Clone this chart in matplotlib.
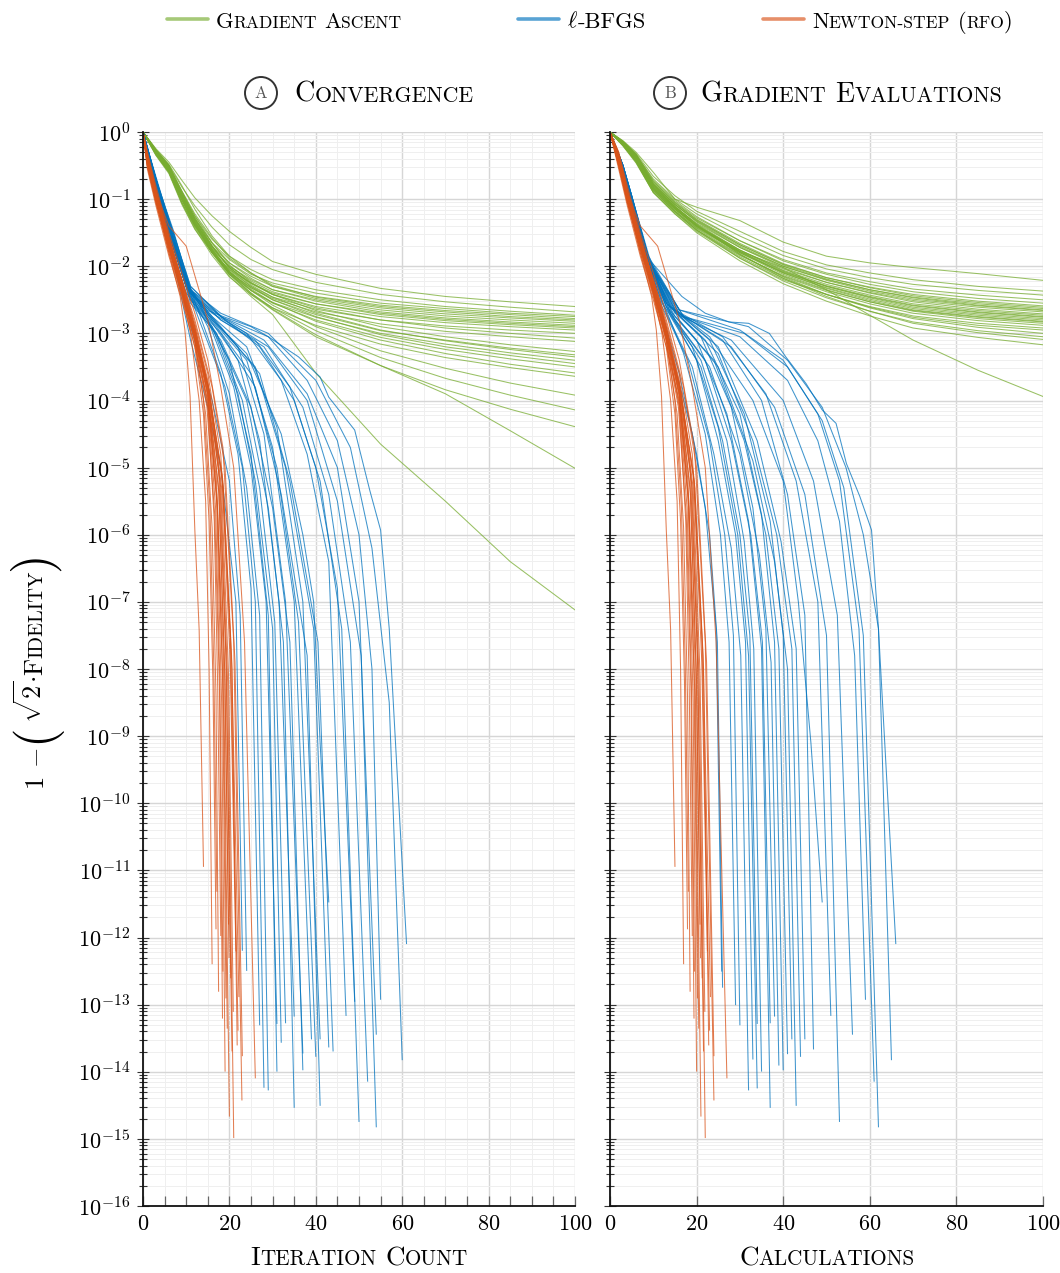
import matplotlib
matplotlib.use("Agg")
from matplotlib import pyplot as plt
from matplotlib.ticker import LogLocator, MultipleLocator, NullFormatter, NullLocator
from matplotlib.font_manager import FontProperties
from matplotlib.patches import Ellipse
from matplotlib.lines import Line2D

plt.rcParams['font.family'] = 'cmr10'
plt.rcParams['mathtext.fontset'] = 'cm'
plt.rcParams['axes.formatter.use_mathtext'] = True

# ---- data (values are log10 of 1 - fidelity) ----
# gradient ascent, panel A (iterations) on a shared x grid
ga_iter_x = [0, 3, 6, 9, 12, 16, 20, 25, 30, 40, 55, 70, 85, 100]
ga_iter_log = [
    [0, -0.25, -0.45, -0.72, -0.98, -1.25, -1.48, -1.72, -1.93, -2.12, -2.33, -2.45, -2.53, -2.60],
    [0, -0.27, -0.50, -0.82, -1.10, -1.42, -1.68, -1.90, -2.05, -2.24, -2.42, -2.53, -2.61, -2.68],
    [0, -0.30, -0.55, -0.90, -1.25, -1.60, -1.85, -2.05, -2.20, -2.35, -2.50, -2.60, -2.67, -2.73],
    [0, -0.27, -0.50, -0.95, -1.30, -1.65, -1.90, -2.12, -2.25, -2.40, -2.55, -2.63, -2.70, -2.75],
    [0, -0.32, -0.58, -1.00, -1.35, -1.70, -1.95, -2.15, -2.30, -2.45, -2.58, -2.66, -2.72, -2.78],
    [0, -0.30, -0.52, -0.88, -1.22, -1.58, -1.88, -2.10, -2.28, -2.46, -2.60, -2.68, -2.75, -2.80],
    [0, -0.26, -0.48, -0.80, -1.15, -1.55, -1.85, -2.10, -2.30, -2.48, -2.62, -2.71, -2.77, -2.82],
    [0, -0.33, -0.60, -1.05, -1.40, -1.75, -2.00, -2.20, -2.35, -2.50, -2.65, -2.74, -2.80, -2.85],
    [0, -0.29, -0.53, -0.92, -1.28, -1.66, -1.95, -2.18, -2.35, -2.52, -2.68, -2.77, -2.83, -2.88],
    [0, -0.35, -0.62, -1.08, -1.45, -1.80, -2.05, -2.25, -2.40, -2.56, -2.70, -2.79, -2.85, -2.90],
    [0, -0.30, -0.55, -0.98, -1.35, -1.72, -2.00, -2.22, -2.38, -2.56, -2.72, -2.81, -2.87, -2.92],
    [0, -0.28, -0.50, -0.90, -1.30, -1.70, -2.02, -2.25, -2.42, -2.60, -2.75, -2.84, -2.90, -2.95],
    [0, -0.32, -0.57, -1.00, -1.38, -1.76, -2.06, -2.30, -2.46, -2.64, -2.80, -2.89, -2.95, -3.00],
    [0, -0.30, -0.55, -0.95, -1.32, -1.72, -2.02, -2.26, -2.42, -2.62, -2.80, -2.92, -3.00, -3.07],
    [0, -0.34, -0.60, -1.05, -1.42, -1.80, -2.10, -2.32, -2.48, -2.68, -2.86, -2.97, -3.05, -3.12],
    [0, -0.27, -0.50, -0.88, -1.25, -1.65, -1.98, -2.24, -2.42, -2.66, -2.90, -3.05, -3.17, -3.27],
    [0, -0.31, -0.56, -1.00, -1.38, -1.78, -2.08, -2.32, -2.50, -2.72, -2.96, -3.10, -3.22, -3.32],
    [0, -0.29, -0.52, -0.93, -1.30, -1.70, -2.02, -2.28, -2.46, -2.70, -2.95, -3.11, -3.24, -3.35],
    [0, -0.33, -0.58, -1.02, -1.40, -1.80, -2.12, -2.36, -2.54, -2.76, -3.00, -3.16, -3.29, -3.40],
    [0, -0.28, -0.50, -0.90, -1.28, -1.70, -2.04, -2.30, -2.50, -2.75, -3.02, -3.20, -3.33, -3.45],
    [0, -0.32, -0.57, -1.00, -1.38, -1.78, -2.10, -2.36, -2.55, -2.80, -3.06, -3.24, -3.38, -3.50],
    [0, -0.30, -0.54, -0.96, -1.34, -1.75, -2.08, -2.34, -2.54, -2.82, -3.10, -3.30, -3.46, -3.59],
    [0, -0.34, -0.60, -1.06, -1.44, -1.84, -2.16, -2.42, -2.62, -2.88, -3.16, -3.36, -3.51, -3.64],
    [0, -0.29, -0.53, -0.94, -1.32, -1.74, -2.08, -2.36, -2.58, -2.90, -3.26, -3.52, -3.74, -3.92],
    [0, -0.31, -0.56, -0.98, -1.36, -1.78, -2.12, -2.40, -2.62, -2.96, -3.36, -3.67, -3.92, -4.14],
    [0, -0.30, -0.54, -0.96, -1.34, -1.76, -2.10, -2.40, -2.64, -3.02, -3.48, -3.84, -4.13, -4.39],
    [0, -0.30, -0.56, -0.98, -1.36, -1.78, -2.12, -2.42, -2.65, -3.05, -3.48, -3.90, -4.45, -5.01],
    [0, -0.32, -0.58, -1.00, -1.38, -1.80, -2.15, -2.45, -2.72, -3.59, -4.65, -5.50, -6.40, -7.12],
]

# gradient ascent, panel B (gradient evaluations)
ga_calc_x = [0, 3, 6, 10, 15, 20, 30, 40, 50, 60, 70, 85, 100]
ga_calc_log = [
    [0, -0.13, -0.30, -0.60, -1.00, -1.12, -1.32, -1.64, -1.85, -1.95, -2.02, -2.11, -2.21],
    [0, -0.14, -0.32, -0.66, -0.95, -1.18, -1.48, -1.78, -1.98, -2.10, -2.20, -2.30, -2.37],
    [0, -0.15, -0.34, -0.70, -1.00, -1.22, -1.55, -1.84, -2.04, -2.17, -2.27, -2.36, -2.43],
    [0, -0.16, -0.36, -0.74, -1.04, -1.28, -1.62, -1.90, -2.10, -2.23, -2.34, -2.43, -2.50],
    [0, -0.14, -0.33, -0.72, -1.02, -1.26, -1.62, -1.92, -2.12, -2.27, -2.38, -2.48, -2.55],
    [0, -0.17, -0.38, -0.78, -1.08, -1.32, -1.68, -1.97, -2.17, -2.31, -2.42, -2.52, -2.59],
    [0, -0.15, -0.35, -0.76, -1.06, -1.30, -1.66, -1.96, -2.17, -2.32, -2.44, -2.54, -2.61],
    [0, -0.18, -0.40, -0.82, -1.12, -1.36, -1.72, -2.00, -2.20, -2.35, -2.46, -2.56, -2.63],
    [0, -0.14, -0.33, -0.74, -1.05, -1.31, -1.68, -1.98, -2.19, -2.35, -2.47, -2.58, -2.65],
    [0, -0.16, -0.36, -0.78, -1.08, -1.33, -1.70, -2.00, -2.21, -2.37, -2.49, -2.59, -2.66],
    [0, -0.19, -0.42, -0.85, -1.15, -1.40, -1.76, -2.04, -2.24, -2.39, -2.51, -2.61, -2.68],
    [0, -0.15, -0.35, -0.77, -1.08, -1.34, -1.72, -2.02, -2.24, -2.40, -2.53, -2.64, -2.71],
    [0, -0.17, -0.39, -0.82, -1.13, -1.39, -1.76, -2.06, -2.27, -2.43, -2.56, -2.66, -2.73],
    [0, -0.18, -0.41, -0.84, -1.14, -1.40, -1.78, -2.08, -2.29, -2.45, -2.58, -2.68, -2.75],
    [0, -0.20, -0.44, -0.88, -1.18, -1.43, -1.80, -2.09, -2.30, -2.46, -2.59, -2.69, -2.76],
    [0, -0.16, -0.37, -0.80, -1.11, -1.37, -1.76, -2.07, -2.30, -2.47, -2.61, -2.71, -2.78],
    [0, -0.18, -0.40, -0.84, -1.15, -1.41, -1.79, -2.10, -2.32, -2.49, -2.63, -2.73, -2.80],
    [0, -0.16, -0.37, -0.80, -1.11, -1.38, -1.78, -2.10, -2.33, -2.51, -2.65, -2.75, -2.82],
    [0, -0.21, -0.46, -0.90, -1.20, -1.46, -1.84, -2.14, -2.36, -2.53, -2.66, -2.76, -2.83],
    [0, -0.17, -0.38, -0.82, -1.13, -1.40, -1.80, -2.12, -2.35, -2.53, -2.67, -2.78, -2.85],
    [0, -0.19, -0.42, -0.86, -1.17, -1.44, -1.83, -2.15, -2.38, -2.56, -2.70, -2.81, -2.88],
    [0, -0.20, -0.45, -0.90, -1.22, -1.48, -1.88, -2.20, -2.42, -2.60, -2.74, -2.85, -2.92],
    [0, -0.19, -0.43, -0.87, -1.19, -1.46, -1.86, -2.18, -2.42, -2.61, -2.76, -2.88, -2.95],
    [0, -0.17, -0.38, -0.80, -1.12, -1.40, -1.82, -2.16, -2.42, -2.62, -2.78, -2.91, -3.00],
    [0, -0.19, -0.42, -0.86, -1.18, -1.46, -1.88, -2.22, -2.47, -2.67, -2.83, -2.96, -3.05],
    [0, -0.16, -0.36, -0.78, -1.10, -1.38, -1.82, -2.18, -2.45, -2.67, -2.85, -2.99, -3.09],
    [0, -0.20, -0.44, -0.90, -1.22, -1.50, -1.92, -2.26, -2.52, -2.74, -2.92, -3.06, -3.17],
    [0, -0.18, -0.40, -0.84, -1.15, -1.42, -1.78, -2.02, -2.35, -2.73, -3.10, -3.55, -3.94],
]

# l-BFGS runs, (x, log10) keypoints per run
bfgs_iter = [
    [(0, 0), (2, -0.6), (5, -1.4), (8, -2.2), (11, -3.1), (15, -4.1), (18, -5.0), (21.5, -7.0), (23, -12.19)],
    [(0, 0), (2, -0.55), (5, -1.3), (8, -2.1), (11, -2.9), (16, -4.0), (20, -5.2), (22.5, -7.2), (24, -12.49)],
    [(0, 0), (2, -0.45), (5, -1.1), (9, -2.0), (13, -2.7), (18, -3.6), (22, -4.8), (25, -6.8), (27, -13.3)],
    [(0, 0), (2, -0.5), (5, -1.2), (9, -2.1), (13, -2.8), (19, -3.8), (23, -5.0), (26, -7.0), (28, -14.23)],
    [(0, 0), (3, -0.75), (6, -1.5), (10, -2.3), (15, -2.9), (20, -3.9), (24, -5.3), (27, -7.2), (29, -14.27)],
    [(0, 0), (3, -0.7), (6, -1.4), (10, -2.2), (15, -2.8), (21, -3.8), (25, -5.0), (28.5, -7.0), (31, -13.28)],
    [(0, 0), (3, -0.8), (6, -1.6), (10, -2.4), (14, -2.7), (20, -3.4), (25, -4.8), (29, -7.2), (31, -13.99)],
    [(0, 0), (3, -0.75), (7, -1.7), (11, -2.5), (16, -2.9), (22, -3.9), (26, -5.2), (30, -7.4), (32, -13.56)],
    [(0, 0), (3, -0.7), (7, -1.6), (11, -2.4), (17, -3.0), (23, -4.0), (27, -5.3), (30.5, -7.3), (33, -13.27)],
    [(0, 0), (3, -0.8), (6, -1.55), (10, -2.3), (15, -2.75), (22, -3.4), (27, -4.6), (31.5, -7.0), (35, -13.17)],
    [(0, 0), (3, -0.75), (7, -1.65), (11, -2.55), (17, -3.0), (24, -4.0), (29, -5.6), (32.5, -7.6), (35, -14.53)],
    [(0, 0), (3, -0.8), (6, -1.5), (10, -2.25), (15, -2.7), (22, -3.2), (28, -4.5), (33, -7.0), (37, -13.72)],
    [(0, 0), (3, -0.7), (7, -1.6), (12, -2.6), (18, -3.1), (25, -4.1), (30, -5.6), (34, -7.6), (37, -13.97)],
    [(0, 0), (3, -0.8), (6, -1.5), (10, -2.3), (16, -2.8), (24, -3.4), (30, -4.7), (35, -7.0), (39, -13.51)],
    [(0, 0), (3, -0.75), (7, -1.65), (11, -2.45), (17, -2.9), (25, -3.6), (31, -5.0), (36, -7.3), (40, -13.77)],
    [(0, 0), (3, -0.8), (6, -1.5), (10, -2.3), (16, -2.75), (24, -3.2), (31, -4.4), (37, -7.0), (41, -13.51)],
    [(0, 0), (3, -0.7), (7, -1.6), (11, -2.5), (18, -3.0), (26, -3.8), (32, -5.4), (38, -7.8), (41, -14.5)],
    [(0, 0), (3, -0.8), (6, -1.5), (10, -2.3), (16, -2.8), (24, -3.3), (32, -4.5), (37, -6.0), (39.5, -7.0), (41, -9.1), (43, -11.47)],
    [(0, 0), (3, -0.75), (7, -1.6), (11, -2.4), (17, -2.85), (26, -3.5), (33, -5.0), (39.5, -7.4), (43, -13.63)],
    [(0, 0), (3, -0.8), (6, -1.5), (10, -2.3), (18, -2.9), (27, -3.6), (34, -5.2), (40.5, -7.6), (44, -13.69)],
    [(0, 0), (3, -0.8), (6, -1.5), (10, -2.3), (16, -2.7), (24, -3.0), (32, -3.7), (38, -4.8), (43, -6.4), (47, -13.16)],
    [(0, 0), (3, -0.75), (7, -1.55), (11, -2.35), (18, -2.8), (26, -3.1), (34, -3.8), (40, -5.0), (45, -6.8), (49, -12.95)],
    [(0, 0), (3, -0.7), (7, -1.5), (11, -2.3), (18, -2.75), (27, -3.2), (35, -4.0), (41, -5.2), (46, -7.4), (50, -14.74)],
    [(0, 0), (3, -0.8), (6, -1.5), (11, -2.4), (18, -2.8), (28, -3.2), (37, -4.1), (43, -5.4), (48, -7.6), (52, -14.14)],
    [(0, 0), (3, -0.75), (7, -1.55), (11, -2.35), (18, -2.75), (28, -3.1), (38, -3.9), (45, -5.0), (50, -7.0), (54, -13.44)],
    [(0, 0), (3, -0.7), (7, -1.5), (11, -2.3), (19, -2.8), (29, -3.2), (38, -4.0), (45, -5.5), (50.5, -7.8), (54, -14.82)],
    [(0, 0), (3, -0.8), (6, -1.5), (11, -2.4), (18, -2.75), (29, -3.05), (38, -3.7), (45, -4.6), (50, -6.0), (53, -8.0), (55, -12.92)],
    [(0, 0), (3, -0.75), (7, -1.5), (11, -2.35), (18, -2.7), (29, -3.0), (40, -3.7), (48, -4.7), (53, -6.2), (57, -8.5), (60, -13.82)],
    [(0, 0), (3, -0.72), (7, -1.46), (11, -2.36), (15, -2.66), (19, -2.76), (25, -2.9), (29, -3.05), (36, -3.35),
     (41, -3.65), (43, -3.95), (49, -4.44), (52.5, -5.34), (55, -5.93), (57, -7.4), (61, -12.09)],
]

bfgs_calc = [
    [(0, 0), (3, -0.6), (5, -1.1), (8, -1.9), (11, -2.6), (15, -3.5), (19, -4.5), (22, -5.6), (24.5, -7.4), (25.8, -12.5)],
    [(0, 0), (3, -0.55), (5, -1.05), (8, -1.85), (12, -2.7), (16, -3.6), (20, -4.8), (23, -6.0), (24.8, -7.6), (26, -12.74)],
    [(0, 0), (3, -0.5), (5, -0.95), (8, -1.7), (12, -2.5), (17, -3.3), (22, -4.5), (25.5, -6.0), (27.5, -7.6), (29, -13.0)],
    [(0, 0), (3, -0.55), (5, -1.0), (8, -1.8), (12, -2.6), (18, -3.4), (23, -4.6), (26.5, -6.0), (28.5, -7.5), (30, -13.3)],
    [(0, 0), (3, -0.6), (5, -1.1), (9, -2.0), (13, -2.7), (19, -3.5), (24, -4.8), (28, -6.2), (30.2, -7.8), (32, -14.27)],
    [(0, 0), (3, -0.5), (5, -0.95), (9, -1.9), (13, -2.6), (20, -3.4), (25, -4.6), (29, -6.0), (31.3, -7.6), (33, -13.81)],
    [(0, 0), (3, -0.6), (5, -1.05), (8, -1.8), (12, -2.55), (19, -3.2), (25, -4.4), (29.5, -6.0), (32, -7.8), (34, -14.24)],
    [(0, 0), (3, -0.55), (5, -1.0), (9, -2.0), (14, -2.75), (21, -3.5), (26, -4.6), (30, -6.0), (32.3, -7.5), (34, -13.28)],
    [(0, 0), (3, -0.5), (5, -0.95), (9, -1.85), (14, -2.7), (21, -3.4), (27, -4.6), (31, -6.1), (33.2, -7.7), (35, -13.99)],
    [(0, 0), (3, -0.6), (5, -1.05), (8, -1.8), (13, -2.6), (20, -3.1), (27, -4.2), (32, -5.8), (35, -7.7), (37, -14.53)],
    [(0, 0), (3, -0.55), (5, -1.0), (9, -1.95), (14, -2.7), (22, -3.4), (28, -4.6), (32.5, -6.0), (35.2, -7.6), (37, -13.27)],
    [(0, 0), (3, -0.6), (5, -1.1), (8, -1.85), (13, -2.55), (21, -3.05), (28, -4.1), (33, -5.6), (36, -7.4), (38, -13.17)],
    [(0, 0), (3, -0.5), (5, -0.95), (9, -1.9), (15, -2.8), (23, -3.5), (30, -4.8), (34.5, -6.3), (37.2, -7.9), (39, -13.9)],
    [(0, 0), (3, -0.55), (5, -1.0), (8, -1.8), (13, -2.55), (22, -3.1), (30, -4.2), (35, -5.7), (38, -7.6), (40, -13.97)],
    [(0, 0), (3, -0.6), (5, -1.05), (9, -2.0), (15, -2.75), (24, -3.4), (31, -4.6), (36, -6.0), (39, -7.7), (41, -13.73)],
    [(0, 0), (3, -0.5), (5, -1.0), (8, -1.8), (14, -2.6), (23, -3.1), (31, -4.2), (37, -5.8), (40, -7.5), (42, -13.51)],
    [(0, 0), (3, -0.55), (5, -1.0), (9, -1.95), (16, -2.8), (25, -3.5), (33, -4.9), (38, -6.4), (41, -8.0), (43, -14.5)],
    [(0, 0), (3, -0.6), (5, -1.1), (8, -1.85), (14, -2.6), (23, -3.05), (33, -4.0), (40, -5.2), (43.5, -7.0), (46.4, -9.1), (49, -11.47)],
    [(0, 0), (3, -0.5), (5, -0.95), (9, -1.9), (16, -2.75), (25, -3.3), (33, -4.6), (38.5, -6.0), (42, -7.7), (44, -13.77)],
    [(0, 0), (3, -0.55), (5, -1.05), (8, -1.8), (15, -2.65), (25, -3.2), (34, -4.6), (39.5, -6.1), (43, -7.7), (45, -13.51)],
    [(0, 0), (3, -0.6), (5, -1.05), (9, -1.95), (16, -2.7), (26, -3.1), (35, -4.0), (41, -5.4), (45, -7.2), (47, -13.66)],
    [(0, 0), (3, -0.5), (5, -1.0), (8, -1.8), (15, -2.65), (26, -3.05), (36, -3.9), (43, -5.2), (48, -7.0), (51, -13.16)],
    [(0, 0), (3, -0.55), (5, -1.0), (9, -1.9), (16, -2.7), (28, -3.2), (38, -4.1), (45, -5.4), (50, -7.5), (53, -14.74)],
    [(0, 0), (3, -0.6), (5, -1.1), (8, -1.85), (15, -2.7), (28, -3.1), (40, -4.0), (47, -5.2), (52.5, -7.2), (56, -13.44)],
    [(0, 0), (3, -0.5), (5, -0.95), (9, -1.9), (17, -2.75), (30, -3.05), (41, -3.7), (48, -4.6), (53, -5.8), (56.5, -7.8), (59, -12.92)],
    [(0, 0), (3, -0.55), (5, -1.0), (8, -1.8), (16, -2.65), (30, -2.95), (40, -3.4), (48, -4.2), (53, -5.2), (57.5, -7.4), (61, -14.14)],
    [(0, 0), (3, -0.6), (5, -1.05), (9, -1.95), (17, -2.75), (31, -3.0), (41, -3.5), (49, -4.3), (54, -5.3), (58.5, -7.5), (62, -14.82)],
    [(0, 0), (3, -0.5), (5, -1.0), (8, -1.75), (16, -2.65), (32, -2.9), (41, -3.4), (49, -4.1), (54.5, -5.0), (58.5, -6.0), (62, -7.4), (65, -13.82)],
    [(0, 0), (3, -0.55), (5, -1.0), (9, -1.9), (16.6, -2.45), (22, -2.7), (27.5, -2.83), (32, -2.85), (36.8, -3.0), (40.6, -3.35),
     (45.3, -3.75), (49, -4.14), (52.2, -4.34), (54.6, -4.94), (57.7, -5.43), (60.4, -5.93), (62, -7.4), (66, -12.09)],
]

# Newton-step (rfo) runs
newton_iter = [
    [(0, 0), (1, -0.45), (3, -1.0), (6, -1.8), (8.6, -2.45), (9.7, -2.95), (10.9, -3.94), (12, -5.93), (13, -7.42), (14, -10.94)],
    [(0, 0), (1, -0.4), (3, -0.95), (6, -1.7), (9, -2.4), (11, -3.0), (13, -4.0), (14.5, -5.5), (15.3, -8.0), (16, -12.39)],
    [(0, 0), (1, -0.5), (3, -1.05), (6, -1.8), (9, -2.45), (12, -3.2), (14, -4.2), (15.3, -5.8), (16.2, -8.2), (16.9, -11.87)],
    [(0, 0), (1, -0.35), (3, -0.9), (6, -1.6), (9, -2.3), (12, -3.1), (14, -4.0), (15.5, -5.6), (16.4, -8.0), (17.1, -11.31)],
    [(0, 0), (1, -0.45), (3, -1.0), (6, -1.7), (9, -2.35), (12, -3.05), (15, -4.1), (16.5, -5.8), (17.3, -8.3), (18, -11.97)],
    [(0, 0), (1, -0.4), (3, -0.9), (6, -1.6), (9, -2.25), (12, -2.95), (15, -3.9), (17, -5.4), (18.2, -8.5), (19, -13.99)],
    [(0, 0), (1, -0.55), (3, -1.1), (6, -1.85), (9, -2.5), (12, -3.2), (15, -4.0), (17.2, -5.6), (18.6, -8.4), (19.5, -13.35)],
    [(0, 0), (1, -0.4), (3, -0.95), (6, -1.65), (9, -2.3), (12, -3.0), (15, -3.9), (17, -5.2), (18.6, -7.8), (20, -14.66)],
    [(0, 0), (1, -0.3), (3, -0.85), (6, -1.55), (9, -2.2), (12, -2.9), (15, -3.7), (17.5, -5.0), (19.2, -7.8), (20.6, -13.69)],
    [(0, 0), (1, -0.45), (3, -1.0), (6, -1.7), (9, -2.35), (12, -3.0), (15, -3.8), (18, -5.3), (19.6, -8.2), (21, -14.98)],
    [(0, 0), (1, -0.35), (3, -0.9), (6, -1.6), (9, -2.2), (12, -2.85), (15, -3.6), (18, -4.8), (20.2, -7.5), (22, -13.38)],
    [(0, 0), (1, -0.5), (3, -1.05), (6, -1.75), (9, -2.4), (12, -3.05), (15, -3.8), (18.5, -5.2), (20.5, -7.8), (22.2, -12.88)],
    [(0, 0), (1, -0.3), (3, -0.8), (6, -1.5), (9, -2.1), (12, -2.7), (15, -3.4), (18.5, -4.7), (21, -7.6), (22.9, -14.42)],
    [(0, 0), (1, -0.4), (3, -0.95), (6, -1.6), (9, -2.2), (12, -2.8), (16, -3.8), (19, -5.0), (21.3, -7.9), (23, -13.76)],
    [(0, 0), (1, -0.4), (3, -0.9), (6, -1.4), (10, -1.7), (15, -2.8), (18, -3.8), (21, -5.0), (23.5, -7.6), (26, -14.09)],
    [(0, 0), (1, -0.42), (3, -0.97), (6, -1.68), (9, -2.33), (12, -3.05), (15, -4.05), (16.8, -5.6), (17.8, -8.2), (18.5, -12.5)],
    [(0, 0), (1, -0.38), (3, -0.92), (6, -1.62), (9, -2.28), (12, -2.98), (15, -3.85), (17.5, -5.3), (18.9, -8.0), (19.8, -11.8)],
    [(0, 0), (1, -0.48), (3, -1.02), (6, -1.72), (9, -2.38), (12, -3.0), (15, -3.75), (18.3, -5.1), (20.2, -7.9), (21.5, -12.2)],
    [(0, 0), (1, -0.44), (3, -0.98), (6, -1.72), (9, -2.4), (12, -3.12), (14.5, -4.2), (16, -5.9), (16.9, -8.4), (17.5, -12.8)],
    [(0, 0), (1, -0.36), (3, -0.88), (6, -1.58), (9, -2.24), (12, -2.92), (15, -3.8), (17.8, -5.2), (19.3, -8.0), (20.3, -12.6)],
    [(0, 0), (1, -0.42), (3, -0.96), (6, -1.66), (9, -2.32), (12, -3.02), (15, -3.95), (17.2, -5.5), (18.4, -8.1), (19.2, -12.9)],
    [(0, 0), (1, -0.5), (3, -1.04), (6, -1.76), (9, -2.42), (12, -3.1), (14.8, -4.1), (16.6, -5.7), (17.7, -8.3), (18.4, -13.2)],
    [(0, 0), (1, -0.34), (3, -0.86), (6, -1.56), (9, -2.22), (12, -2.9), (15.5, -3.9), (18.2, -5.3), (19.8, -8.1), (20.9, -13.1)],
    [(0, 0), (1, -0.46), (3, -1.0), (6, -1.7), (9, -2.36), (12, -3.04), (15, -3.9), (17.6, -5.4), (19, -8.2), (19.9, -12.3)],
    [(0, 0), (1, -0.4), (3, -0.94), (6, -1.64), (9, -2.3), (12, -2.96), (15.3, -3.85), (18.6, -5.3), (20.6, -8.0), (21.8, -13.6)],
]

newton_calc = [
    [(0, 0), (2, -0.45), (4, -1.0), (7, -1.8), (9.6, -2.45), (10.7, -2.95), (11.9, -3.94), (13, -5.93), (14, -7.42), (15, -10.94)],
    [(0, 0), (2, -0.4), (4, -0.95), (7, -1.7), (10, -2.4), (12, -3.0), (14, -4.0), (15.5, -5.5), (16.3, -8.0), (17, -12.39)],
    [(0, 0), (2, -0.5), (4, -1.05), (7, -1.8), (10, -2.45), (13, -3.2), (15, -4.2), (16.3, -5.8), (17.2, -8.2), (17.9, -11.87)],
    [(0, 0), (2, -0.35), (4, -0.9), (7, -1.6), (10, -2.3), (13, -3.1), (15, -4.0), (16.5, -5.6), (17.4, -8.0), (18.1, -11.31)],
    [(0, 0), (2, -0.45), (4, -1.0), (7, -1.7), (10, -2.35), (13, -3.05), (16, -4.1), (17.5, -5.8), (18.3, -8.3), (19, -11.97)],
    [(0, 0), (2, -0.4), (4, -0.9), (7, -1.6), (10, -2.25), (13, -2.95), (16, -3.9), (18, -5.4), (19.2, -8.5), (20, -13.99)],
    [(0, 0), (2, -0.55), (4, -1.1), (7, -1.85), (10, -2.5), (13, -3.2), (16, -4.0), (18.2, -5.6), (19.6, -8.4), (20.5, -13.35)],
    [(0, 0), (2, -0.4), (4, -0.95), (7, -1.65), (10, -2.3), (13, -3.0), (16, -3.9), (18, -5.2), (19.6, -7.8), (21, -14.66)],
    [(0, 0), (2, -0.3), (4, -0.85), (7, -1.55), (10, -2.2), (13, -2.9), (16, -3.7), (18.5, -5.0), (20.2, -7.8), (21.6, -13.69)],
    [(0, 0), (2, -0.45), (4, -1.0), (7, -1.7), (10, -2.35), (13, -3.0), (16, -3.8), (19, -5.3), (20.6, -8.2), (22, -14.98)],
    [(0, 0), (2, -0.35), (4, -0.9), (7, -1.6), (10, -2.2), (13, -2.85), (16, -3.6), (19, -4.8), (21.2, -7.5), (23, -13.38)],
    [(0, 0), (2, -0.5), (4, -1.05), (7, -1.75), (10, -2.4), (13, -3.05), (16, -3.8), (19.5, -5.2), (21.5, -7.8), (23.2, -12.88)],
    [(0, 0), (2, -0.3), (4, -0.8), (7, -1.5), (10, -2.1), (13, -2.7), (16, -3.4), (19.5, -4.7), (22, -7.6), (24, -14.42)],
    [(0, 0), (2, -0.4), (4, -0.95), (7, -1.6), (10, -2.2), (13, -2.8), (17, -3.8), (20, -5.0), (22.3, -7.9), (24, -13.76)],
    [(0, 0), (2, -0.4), (4, -0.9), (7, -1.4), (11, -1.7), (16, -2.8), (19, -3.8), (22, -5.0), (24.5, -7.6), (27, -14.09)],
    [(0, 0), (2, -0.42), (4, -0.97), (7, -1.68), (10, -2.33), (13, -3.05), (16, -4.05), (17.8, -5.6), (18.8, -8.2), (19.5, -12.5)],
    [(0, 0), (2, -0.38), (4, -0.92), (7, -1.62), (10, -2.28), (13, -2.98), (16, -3.85), (18.5, -5.3), (19.9, -8.0), (20.8, -11.8)],
    [(0, 0), (2, -0.48), (4, -1.02), (7, -1.72), (10, -2.38), (13, -3.0), (16, -3.75), (19.3, -5.1), (21.2, -7.9), (22.5, -12.2)],
    [(0, 0), (2, -0.44), (4, -0.98), (7, -1.72), (10, -2.4), (13, -3.12), (15.5, -4.2), (17, -5.9), (17.9, -8.4), (18.5, -12.8)],
    [(0, 0), (2, -0.36), (4, -0.88), (7, -1.58), (10, -2.24), (13, -2.92), (16, -3.8), (18.8, -5.2), (20.3, -8.0), (21.3, -12.6)],
    [(0, 0), (2, -0.42), (4, -0.96), (7, -1.66), (10, -2.32), (13, -3.02), (16, -3.95), (18.2, -5.5), (19.4, -8.1), (20.2, -12.9)],
    [(0, 0), (2, -0.5), (4, -1.04), (7, -1.76), (10, -2.42), (13, -3.1), (15.8, -4.1), (17.6, -5.7), (18.7, -8.3), (19.4, -13.2)],
    [(0, 0), (2, -0.34), (4, -0.86), (7, -1.56), (10, -2.22), (13, -2.9), (16.5, -3.9), (19.2, -5.3), (20.8, -8.1), (21.9, -13.1)],
    [(0, 0), (2, -0.46), (4, -1.0), (7, -1.7), (10, -2.36), (13, -3.04), (16, -3.9), (18.6, -5.4), (20, -8.2), (20.9, -12.3)],
    [(0, 0), (2, -0.4), (4, -0.94), (7, -1.64), (10, -2.3), (13, -2.96), (16.3, -3.85), (19.6, -5.3), (21.6, -8.0), (22.8, -13.6)],
]

GREEN = '#77AC30'
BLUE = '#0072BD'
ORANGE = '#D95319'

W, H = 1060, 1273
fig = plt.figure(figsize=(W / 100, H / 100), dpi=100)


def px_axes(x0, x1, y0, y1):
    # pixel box measured from the top-left corner
    return fig.add_axes([x0 / W, 1 - y1 / H, (x1 - x0) / W, (y1 - y0) / H])


def style(ax, minor_x, labels):
    ax.set_yscale('log')
    ax.set_xlim(0, 100)
    ax.set_ylim(1e-16, 1)
    ax.yaxis.set_major_locator(LogLocator(base=10, numticks=40))
    ax.yaxis.set_minor_locator(LogLocator(base=10, subs=range(2, 10), numticks=400))
    ax.yaxis.set_minor_formatter(NullFormatter())
    ax.xaxis.set_major_locator(MultipleLocator(20))
    if minor_x:
        ax.xaxis.set_minor_locator(MultipleLocator(5))
    else:
        ax.xaxis.set_minor_locator(NullLocator())
    ax.grid(True, which='major', color='#d6d6d6', lw=1.0)
    ax.grid(True, which='minor', color='#efefef', lw=0.7)
    ax.set_axisbelow(True)
    for s in ['top', 'right']:
        ax.spines[s].set_visible(False)
    for s in ['left', 'bottom']:
        ax.spines[s].set_linewidth(1.3)
        ax.spines[s].set_color('#111111')
    ax.tick_params(axis='y', which='both', direction='inout', length=8, width=0.8,
                   color='#333333', labelsize=16, pad=5, labelleft=labels)
    ax.tick_params(axis='y', which='minor', length=6)
    ax.tick_params(axis='x', which='both', direction='in', length=7, width=0.9,
                   color='#666666', labelsize=16, pad=6)


def draw_runs(ax, x_grid, rows, runs_b, runs_n):
    for row in rows:
        ax.plot(x_grid, [10 ** v for v in row], color=GREEN, lw=0.75, alpha=0.75)
    for run in runs_b:
        ax.plot([p[0] for p in run], [10 ** p[1] for p in run], color=BLUE, lw=0.75, alpha=0.75)
    for run in runs_n:
        ax.plot([p[0] for p in run], [10 ** p[1] for p in run], color=ORANGE, lw=0.75, alpha=0.75)


ax_a = px_axes(143, 575, 132, 1206)
ax_b = px_axes(610, 1043, 132, 1206)
style(ax_a, True, True)
style(ax_b, False, False)
draw_runs(ax_a, ga_iter_x, ga_iter_log, bfgs_iter, newton_iter)
draw_runs(ax_b, ga_calc_x, ga_calc_log, bfgs_calc, newton_calc)

renderer = fig.canvas.get_renderer()


def text_w(s, size):
    prop = FontProperties(family='cmr10', size=size)
    w, _, _ = renderer.get_text_width_height_descent(s, prop, ismath=s.startswith('$'))
    return w


def measure(s, size):
    if s == ' ':
        return 0.333 * size * fig.dpi / 72
    if s.startswith('$'):
        return text_w(s, size)
    # bars on both sides so the side bearings are counted
    return text_w('|' + s + '|', size) - text_w('||', size)


def pieces(parts, x, y, rotate=False, align='left', color='black'):
    # fake small caps: a run of text pieces of different sizes on one baseline
    widths = [measure(p[0], p[1]) for p in parts]
    pos = -sum(widths) / 2 if align == 'center' else 0
    for p, w in zip(parts, widths):
        s, size = p[0], p[1]
        dy = p[2] if len(p) > 2 else 0
        if s != ' ':
            if rotate:
                fig.text((x + dy) / W, 1 - (y - pos) / H, s, fontsize=size, rotation=90,
                         rotation_mode='anchor', ha='left', va='baseline', color=color)
            else:
                fig.text((x + pos) / W, 1 - (y + dy) / H, s, fontsize=size,
                         ha='left', va='baseline', color=color)
        pos += w


BIG, SMALL = 16.2, 12.6

# legend
for x0, col in [(167, GREEN), (518, BLUE), (763, ORANGE)]:
    fig.add_artist(Line2D([x0 / W, (x0 + 41) / W], [1 - 18.5 / H] * 2, transform=fig.transFigure,
                          color=col, lw=2.6, alpha=0.65, solid_capstyle='round'))
pieces([('G', BIG), ('RADIENT', SMALL), (' ', BIG), ('A', BIG), ('SCENT', SMALL)], 216, 27.5)
pieces([(r'$\ell$', BIG), ('-BFGS', BIG)], 567, 27.5)
pieces([('N', BIG), ('EWTON-STEP', SMALL), (' ', BIG), ('(', BIG), ('RFO', SMALL), (')', BIG)], 812, 27.5)

# panel titles with circled letters
for cx, letter in [(261, 'A'), (670, 'B')]:
    fig.add_artist(Ellipse((cx / W, 1 - 93 / H), 32 / W, 32 / H, transform=fig.transFigure,
                           fill=False, ec='#333333', lw=1.4))
    fig.text(cx / W, 1 - 93.5 / H, letter, fontsize=12, ha='center', va='center', color='#555555')
TB, TS = 20.2, 15.7
pieces([('C', TB), ('ONVERGENCE', TS)], 294, 102)
pieces([('G', TB), ('RADIENT', TS), (' ', TB), ('E', TB), ('VALUATIONS', TS)], 700, 102)

# axis labels
LB, LS = 19.5, 15.2
pieces([('I', LB), ('TERATION', LS), (' ', LB), ('C', LB), ('OUNT', LS)], 359, 1265, align='center')
pieces([('C', LB), ('ALCULATIONS', LS)], 827, 1265, align='center')
pieces([('1', 19), (' ', 11), (r'$-$', 19), (' ', 11), ('(', 36, 5), (r'$\sqrt{2}{\cdot}$', 19),
        ('F', 19), ('IDELITY', 14.8), (')', 36, 5)], 42, 669, rotate=True, align='center')

fig.savefig('out.png', dpi=100)
